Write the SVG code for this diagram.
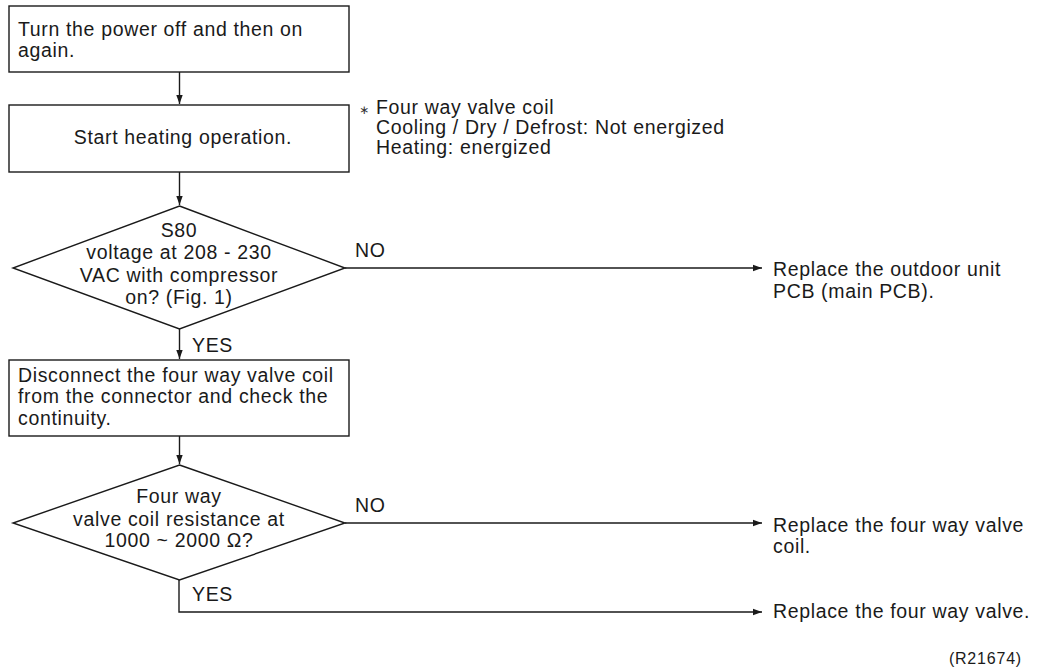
<svg xmlns="http://www.w3.org/2000/svg" width="1043" height="669" viewBox="0 0 1043 669">
<defs>
<marker id="ah" markerWidth="10" markerHeight="8" refX="9" refY="4" orient="auto" markerUnits="userSpaceOnUse">
<path d="M0,0.8 L9,4 L0,7.2 Z" fill="#1a1a1a"/>
</marker>
<style>
.n{fill:#fff;stroke:#1a1a1a;stroke-width:1.4}
.t{font-family:"Liberation Sans",Arial,sans-serif;font-size:19.5px;letter-spacing:0.65px;fill:#1a1a1a}
.c{text-anchor:middle}
.s{font-family:"Liberation Sans",Arial,sans-serif;font-size:16px;letter-spacing:0.8px;fill:#1a1a1a;text-anchor:end}
.l{fill:none;stroke:#1a1a1a;stroke-width:1.4}
</style>
</defs>
<rect width="1043" height="669" fill="#fff"/>
<g id="connectors">
<line class="l" x1="179.5" y1="72" x2="179.5" y2="104" marker-end="url(#ah)"/>
<line class="l" x1="179.5" y1="172" x2="179.5" y2="205" marker-end="url(#ah)"/>
<line class="l" x1="345" y1="268" x2="762" y2="268" marker-end="url(#ah)"/>
<line class="l" x1="179.5" y1="329" x2="179.5" y2="359" marker-end="url(#ah)"/>
<line class="l" x1="179.5" y1="436" x2="179.5" y2="464" marker-end="url(#ah)"/>
<line class="l" x1="345" y1="523" x2="762" y2="523" marker-end="url(#ah)"/>
<polyline class="l" points="179,580 179,612 762,612" stroke="#444" marker-end="url(#ah)"/>
<text class="t" x="355" y="257">NO</text>
<text class="t" x="355" y="512">NO</text>
<text class="t" x="192" y="352">YES</text>
<text class="t" x="192" y="601">YES</text>
</g>
<g id="n1">
<rect class="n" x="9" y="6" width="340" height="66"/>
<text class="t" x="18" y="36">Turn the power off and then on</text>
<text class="t" x="18" y="57">again.</text>
</g>
<g id="n2">
<rect class="n" x="9" y="105" width="340" height="67"/>
<text class="t c" x="183" y="144">Start heating operation.</text>
</g>
<g id="note">
<text x="359" y="114" font-family="'DejaVu Sans',sans-serif" font-size="12" fill="#333">∗</text>
<text class="t" x="376" y="114">Four way valve coil</text>
<text class="t" x="376" y="134">Cooling / Dry / Defrost: Not energized</text>
<text class="t" x="376" y="154">Heating: energized</text>
</g>
<g id="d1">
<polygon class="n" points="179.5,206 345,268 179.5,329 13,268"/>
<text class="t c" x="179" y="237">S80</text>
<text class="t c" x="179" y="259">voltage at 208 - 230</text>
<text class="t c" x="179" y="282">VAC with compressor</text>
<text class="t c" x="179" y="304">on? (Fig. 1)</text>
</g>
<g id="r1">
<text class="t" x="773" y="276">Replace the outdoor unit</text>
<text class="t" x="773" y="298">PCB (main PCB).</text>
</g>
<g id="n3">
<rect class="n" x="9" y="360" width="340" height="76"/>
<text class="t" x="18" y="382">Disconnect the four way valve coil</text>
<text class="t" x="18" y="403">from the connector and check the</text>
<text class="t" x="18" y="425">continuity.</text>
</g>
<g id="d2">
<polygon class="n" points="179.5,465 345,523 179.5,580 13,523"/>
<text class="t c" x="179" y="503">Four way</text>
<text class="t c" x="179" y="526">valve coil resistance at</text>
<text class="t c" x="179" y="547">1000 ~ 2000 Ω?</text>
</g>
<g id="r2">
<text class="t" x="773" y="532">Replace the four way valve</text>
<text class="t" x="773" y="553">coil.</text>
</g>
<g id="r3">
<text class="t" x="773" y="618">Replace the four way valve.</text>
</g>
<text class="s" x="1022" y="664">(R21674)</text>
</svg>
